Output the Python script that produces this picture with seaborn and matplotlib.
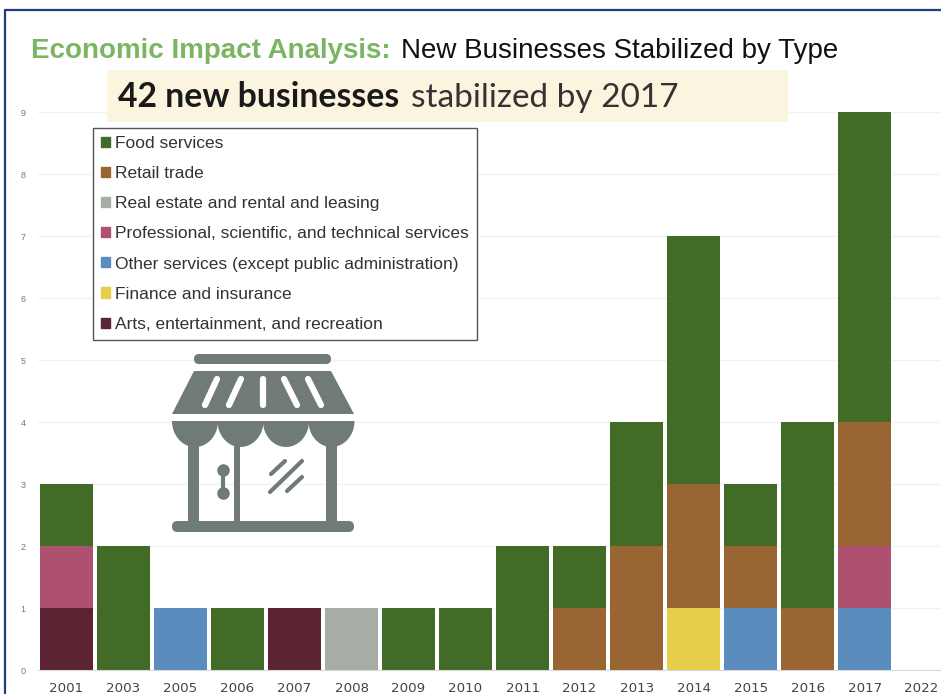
import numpy as np
import pandas as pd
import matplotlib
matplotlib.use('Agg')
import matplotlib.pyplot as plt
from matplotlib.patches import Patch, Polygon, Rectangle, FancyBboxPatch
import seaborn as sns

years = ['2001', '2003', '2005', '2006', '2007', '2008', '2009', '2010',
         '2011', '2012', '2013', '2014', '2015', '2016', '2017', '2022']
food = [1, 2, 0, 1, 0, 0, 1, 1, 2, 1, 2, 4, 1, 3, 5, 0]
retail = [0, 0, 0, 0, 0, 0, 0, 0, 0, 1, 2, 2, 1, 1, 2, 0]
real_estate = [0, 0, 0, 0, 0, 1, 0, 0, 0, 0, 0, 0, 0, 0, 0, 0]
professional = [1, 0, 0, 0, 0, 0, 0, 0, 0, 0, 0, 0, 0, 0, 1, 0]
other = [0, 0, 1, 0, 0, 0, 0, 0, 0, 0, 0, 0, 1, 0, 1, 0]
finance = [0, 0, 0, 0, 0, 0, 0, 0, 0, 0, 0, 1, 0, 0, 0, 0]
arts = [1, 0, 0, 0, 1, 0, 0, 0, 0, 0, 0, 0, 0, 0, 0, 0]

types = ['Food services', 'Retail trade', 'Real estate and rental and leasing',
         'Professional, scientific, and technical services',
         'Other services (except public administration)',
         'Finance and insurance', 'Arts, entertainment, and recreation']
colores = ['#426B27', '#996633', '#A5ADA5', '#AE5070', '#5A8DBD', '#E6CE4A', '#5C2333']
series = [food, retail, real_estate, professional, other, finance, arts]

frames = [pd.DataFrame({'year': years, 'type': t, 'count': s}) for t, s in zip(types, series)]
df = pd.concat(frames)
df['year'] = pd.Categorical(df['year'], categories=years)

sns.set_style('white')
plt.rcParams['font.family'] = ['Liberation Sans', 'DejaVu Sans']

fig = plt.figure(figsize=(9.41, 6.94), dpi=100)
ax = fig.add_axes([38 / 941, 24 / 694, 903 / 941, 558 / 694])
sns.histplot(data=df, x='year', weights='count', hue='type', hue_order=types,
             palette=colores, multiple='stack', discrete=True, shrink=0.93,
             alpha=1, linewidth=0, legend=False, ax=ax)
ax.set_xlim(-0.5, 15.34)
ax.set_ylim(0, 9)
ax.set_yticks(range(10))
ax.set_xlabel('')
ax.set_ylabel('')
ax.yaxis.grid(True, color='#F2F2F2', linewidth=1)
ax.set_axisbelow(True)
ax.patch.set_alpha(0)
sns.despine(ax=ax, left=True, right=True, top=True)
ax.spines['bottom'].set_color('#D9D9D9')
ax.tick_params(axis='y', labelsize=6.5, labelcolor='#777777', length=0, pad=9)
ax.tick_params(axis='x', labelsize=9.6, labelcolor='#444444', length=0, pad=8.5)
for lab in ax.get_xticklabels():
    lab.set_family('DejaVu Sans')

# capa en pixeles para titulo, banner e icono
over = fig.add_axes([0, 0, 1, 1], zorder=5)
over.set_xlim(0, 941)
over.set_ylim(694, 0)
over.axis('off')

over.plot([5, 941], [10, 10], color='#1F3F80', lw=1.6)
over.plot([5, 5], [10, 694], color='#1F3F80', lw=1.6)

over.text(31, 58, 'Economic Impact Analysis:', color='#7DB462', fontsize=20, fontweight='bold')
over.text(401, 58, 'New Businesses Stabilized by Type', color='#111111', fontsize=20)

over.add_patch(Rectangle((107, 70), 681, 52, color='#FBF5DF', lw=0))
over.text(118, 107, '42 new businesses', family='Lato', fontweight='bold', fontsize=24.3, color='#1A1A1A')
over.text(411, 107, 'stabilized by 2017', family='Lato', fontsize=24, color='#333333')

# icono de la tienda
gris = '#6F7B74'
def barra(x0, x1, y0, y1):
    r = (y1 - y0) / 2
    over.add_patch(FancyBboxPatch((x0 + r, y0 + r), x1 - x0 - 2 * r, 0,
                                  boxstyle=f'round,pad={r}', color=gris, lw=0))

barra(194, 331, 354, 364)
barra(172, 354, 521, 532)
over.add_patch(Polygon([(194, 371), (331, 371), (354, 414), (172, 414)], color=gris, lw=0))
for x0, x1 in [(217, 205), (241, 229), (263, 263), (284, 297), (308, 321)]:
    over.plot([x0, x1], [379, 405], color='white', lw=4.5, solid_capstyle='round')
t = np.linspace(0, np.pi, 40)
for cx in [195, 240.5, 286, 331.5]:
    over.add_patch(Polygon(np.c_[cx + 23 * np.cos(t), 421 + 26 * np.sin(t)], color=gris, lw=0))
for x0, x1 in [(188, 199), (234, 240), (326, 337)]:
    over.add_patch(Rectangle((x0, 440), x1 - x0, 85, color=gris, lw=0))
over.plot([223, 223], [470, 493], color=gris, lw=3)
over.plot([223, 223], [470, 493], 'o', color=gris, ms=8)
for (xa, ya), (xb, yb) in [((271, 474), (285, 461)), ((270, 492), (302, 461)), ((287, 491), (302, 477))]:
    over.plot([xa, xb], [ya, yb], color=gris, lw=3, solid_capstyle='round')

handles = [Patch(color=c, label=t_) for c, t_ in zip(colores, types)]
leg = over.legend(handles=handles, loc='upper left', bbox_to_anchor=(93 / 941, 1 - 128 / 694),
                  bbox_transform=fig.transFigure, fontsize=12.55, frameon=True, fancybox=False,
                  handlelength=0.52, handleheight=0.52, handletextpad=0.32, labelspacing=0.87,
                  borderaxespad=0, borderpad=0.45, labelcolor='#333333', edgecolor='#555555',
                  framealpha=1)
leg.get_frame().set_linewidth(1)

fig.savefig('out.png', dpi=100)
